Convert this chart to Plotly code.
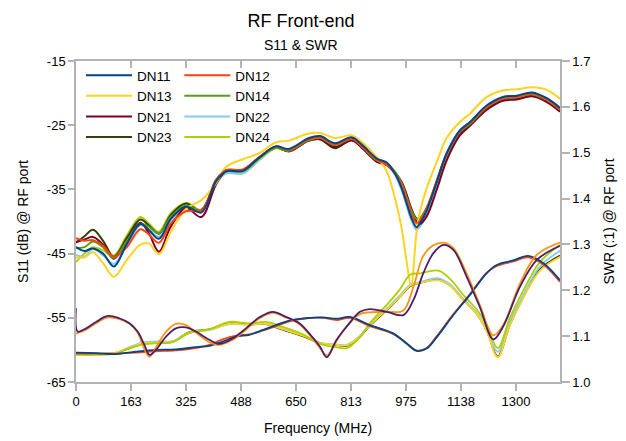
import plotly.graph_objects as go

# ---------------- data ----------------
F_S11 = [0, 25, 50, 80, 112, 150, 190, 215, 245, 280, 325, 370, 413, 443, 493, 540, 590, 628, 688, 721,
         765, 815, 850, 889, 918, 942, 962, 977, 990, 1006, 1016, 1036, 1066, 1095, 1134, 1164, 1214, 1261,
         1302, 1347, 1391, 1430]

DN11 = [-44.0, -44.6, -44.2, -45.0, -47.0, -43.5, -40.4, -41.3, -42.7, -39.6, -37.7, -38.6, -33.8, -32.2, -32.1,
        -30.1, -28.3, -28.7, -27.0, -26.7, -27.8, -26.9, -28.3, -30.2, -30.8, -32.5, -34.8, -37.2, -39.3, -40.9,
        -40.3, -38.3, -33.8, -29.4, -25.8, -24.5, -21.9, -20.6, -20.4, -19.9, -20.8, -22.3]
DN12 = [-42.6, -43.0, -42.9, -43.8, -45.5, -44.0, -41.2, -42.0, -43.3, -40.3, -38.4, -38.2, -33.8, -32.0, -31.9,
        -30.0, -28.3, -28.8, -27.2, -26.9, -28.0, -27.1, -28.6, -30.4, -31.2, -32.5, -34.3, -36.6, -38.7, -40.2,
        -39.9, -38.0, -33.6, -29.4, -25.9, -24.6, -22.1, -20.8, -20.6, -20.1, -21.0, -22.5]
DN13 = [-45.6, -45.6, -44.8, -46.5, -48.6, -46.0, -43.6, -43.4, -45.1, -41.6, -38.0, -36.7, -34.1, -31.5, -30.3,
        -29.4, -27.7, -27.4, -26.3, -26.2, -27.0, -26.6, -27.9, -30.0, -32.2, -36.3, -41.0, -46.3, -50.0, -41.6,
        -38.5, -34.8, -30.7, -27.0, -24.5, -23.2, -20.6, -19.6, -19.4, -19.1, -19.5, -20.9]
DN14 = [-44.1, -44.0, -43.1, -44.0, -45.7, -43.0, -40.4, -40.8, -41.8, -39.3, -37.5, -38.2, -33.8, -32.2, -32.2,
        -30.2, -28.5, -29.0, -27.3, -27.0, -28.1, -27.1, -28.6, -30.5, -31.0, -32.2, -34.0, -36.2, -38.2, -39.6,
        -39.5, -37.8, -33.8, -29.6, -26.0, -24.8, -22.2, -20.9, -20.7, -20.2, -21.1, -22.6]
DN21 = [-43.2, -42.8, -42.4, -43.6, -45.8, -43.0, -40.2, -41.8, -44.7, -40.8, -37.9, -39.3, -34.3, -32.2, -32.0,
        -30.1, -28.4, -29.1, -27.4, -27.2, -28.4, -27.4, -28.8, -30.7, -31.2, -32.4, -33.8, -35.8, -37.9, -40.0,
        -40.4, -39.2, -35.0, -30.5, -26.6, -25.1, -22.6, -21.2, -21.0, -20.5, -21.4, -22.9]
DN22 = [-45.2, -45.5, -44.3, -45.3, -46.6, -43.7, -40.6, -41.2, -42.4, -39.8, -37.9, -38.5, -34.2, -32.5, -32.5,
        -30.4, -28.5, -28.9, -27.1, -26.9, -28.0, -27.0, -28.4, -30.2, -31.0, -32.7, -35.1, -37.6, -39.7, -41.3,
        -40.8, -38.7, -34.2, -29.7, -26.0, -24.7, -22.1, -20.8, -20.6, -20.1, -21.0, -22.5]
DN23 = [-43.3, -42.3, -41.3, -43.0, -45.5, -42.6, -39.7, -40.6, -41.9, -39.0, -37.2, -38.4, -33.6, -32.0, -32.0,
        -30.1, -28.5, -29.0, -27.4, -27.2, -28.6, -27.3, -28.8, -30.6, -31.2, -32.3, -34.0, -36.1, -38.0, -39.5,
        -39.6, -38.0, -34.0, -29.8, -26.2, -24.9, -22.4, -21.0, -20.8, -20.3, -21.2, -22.7]
DN24 = [-46.3, -45.0, -44.0, -44.5, -45.3, -42.2, -39.3, -40.3, -41.6, -38.7, -37.1, -38.2, -34.0, -32.5, -32.5,
        -30.5, -28.6, -29.0, -27.2, -27.0, -28.2, -27.2, -28.5, -30.4, -31.0, -32.4, -34.4, -36.8, -38.9, -40.4,
        -40.1, -38.2, -33.9, -29.6, -26.0, -24.7, -22.2, -20.9, -20.7, -20.2, -21.1, -22.6]

# SWR curves, group A
F_SWR_A = [0, 5, 30, 59, 94, 128, 158, 182, 202, 217, 236, 266, 295, 325, 354, 394, 423, 463, 502, 542,
           581, 620, 660, 689, 721, 741, 770, 800, 839, 868, 918, 967, 997, 1026, 1056, 1085, 1115, 1154, 1193,
           1233, 1262, 1312, 1361, 1430]
SWR_A1 = [1.161, 1.110, 1.117, 1.131, 1.144, 1.139, 1.128, 1.110, 1.081, 1.059, 1.070, 1.099, 1.117, 1.119, 1.110,
          1.092, 1.083, 1.095, 1.117, 1.141, 1.153, 1.142, 1.128, 1.106, 1.077, 1.054, 1.092, 1.121, 1.153, 1.159,
          1.153, 1.146, 1.179, 1.237, 1.281, 1.299, 1.288, 1.230, 1.164, 1.093, 1.121, 1.208, 1.266, 1.297]
SWR_A2 = [1.105, 1.107, 1.114, 1.128, 1.141, 1.137, 1.127, 1.108, 1.072, 1.055, 1.075, 1.110, 1.127, 1.124, 1.108,
          1.087, 1.081, 1.092, 1.114, 1.139, 1.151, 1.141, 1.126, 1.104, 1.074, 1.058, 1.090, 1.122, 1.148, 1.152,
          1.153, 1.156, 1.208, 1.275, 1.298, 1.304, 1.292, 1.237, 1.168, 1.102, 1.124, 1.215, 1.277, 1.304]

# SWR curves, group B
F_SWR_B = [0, 59, 118, 177, 236, 295, 354, 394, 433, 473, 512, 551, 591, 630, 679, 729, 770, 809, 868, 937,
           977, 1006, 1036, 1066, 1115, 1164, 1213, 1243, 1292, 1336, 1381, 1430]
SWR_B1 = [1.064, 1.063, 1.061, 1.066, 1.070, 1.071, 1.076, 1.079, 1.088, 1.099, 1.103, 1.113, 1.124, 1.134, 1.139,
          1.141, 1.138, 1.142, 1.124, 1.106, 1.084, 1.068, 1.073, 1.098, 1.146, 1.190, 1.237, 1.255, 1.265, 1.275,
          1.259, 1.222]
SWR_B2 = [1.062, 1.062, 1.062, 1.064, 1.067, 1.069, 1.074, 1.081, 1.093, 1.101, 1.104, 1.112, 1.122, 1.132, 1.139,
          1.140, 1.135, 1.140, 1.122, 1.105, 1.084, 1.069, 1.074, 1.100, 1.148, 1.192, 1.238, 1.253, 1.263, 1.272,
          1.256, 1.218]

# SWR curves, group C
F_SWR_C = [0, 59, 118, 148, 197, 246, 286, 335, 394, 453, 512, 561, 611, 670, 725, 760, 800, 839, 868, 918,
           957, 987, 1016, 1071, 1105, 1144, 1184, 1213, 1246, 1282, 1322, 1371, 1430]
SWR_C1 = [1.062, 1.062, 1.064, 1.072, 1.084, 1.087, 1.088, 1.108, 1.114, 1.127, 1.125, 1.127, 1.115, 1.101, 1.084,
          1.082, 1.080, 1.100, 1.124, 1.158, 1.186, 1.210, 1.216, 1.222, 1.210, 1.178, 1.148, 1.112, 1.054, 1.124,
          1.184, 1.243, 1.273]
SWR_C2 = [1.059, 1.059, 1.062, 1.071, 1.082, 1.085, 1.087, 1.107, 1.115, 1.131, 1.128, 1.131, 1.120, 1.104, 1.082,
          1.077, 1.074, 1.098, 1.128, 1.168, 1.202, 1.234, 1.237, 1.243, 1.225, 1.190, 1.158, 1.125, 1.074, 1.140,
          1.200, 1.262, 1.299]
SWR_C3 = [1.061, 1.061, 1.064, 1.073, 1.086, 1.089, 1.089, 1.107, 1.113, 1.126, 1.125, 1.127, 1.116, 1.102, 1.085,
          1.083, 1.081, 1.101, 1.125, 1.160, 1.189, 1.212, 1.218, 1.226, 1.213, 1.181, 1.150, 1.115, 1.066, 1.132,
          1.190, 1.252, 1.286]
SWR_C4 = [1.061, 1.061, 1.063, 1.071, 1.083, 1.086, 1.088, 1.109, 1.115, 1.128, 1.126, 1.126, 1.114, 1.100, 1.084,
          1.082, 1.079, 1.099, 1.123, 1.157, 1.186, 1.209, 1.216, 1.223, 1.211, 1.180, 1.149, 1.113, 1.056, 1.125,
          1.186, 1.246, 1.276]

X_TICKS = [0, 162.5, 325, 487.5, 650, 812.5, 975, 1137.5, 1300]
X_TICK_TEXT = ["0", "163", "325", "488", "650", "813", "975", "1138", "1300"]
Y_TICKS = [-15, -25, -35, -45, -55, -65]
Y_TICK_TEXT = ["-15", "-25", "-35", "-45", "-55", "-65"]
Y2_TICKS = [1.0, 1.1, 1.2, 1.3, 1.4, 1.5, 1.6, 1.7]

S11_SERIES = [
    ("DN11", DN11, "#004586", "legend"),
    ("DN12", DN12, "#ff420e", "legend2"),
    ("DN13", DN13, "#ffd320", "legend"),
    ("DN14", DN14, "#579d1c", "legend2"),
    ("DN21", DN21, "#7e0021", "legend"),
    ("DN22", DN22, "#83caff", "legend2"),
    ("DN23", DN23, "#314004", "legend"),
    ("DN24", DN24, "#aecf00", "legend2"),
]
SWR_SERIES = [
    (F_SWR_C, SWR_C4, "#314004"),
    (F_SWR_C, SWR_C3, "#83caff"),
    (F_SWR_C, SWR_C1, "#ffd320"),
    (F_SWR_C, SWR_C2, "#aecf00"),
    (F_SWR_B, SWR_B2, "#ff420e"),
    (F_SWR_B, SWR_B1, "#004586"),
    (F_SWR_A, SWR_A2, "#ff950e"),
    (F_SWR_A, SWR_A1, "#4b1f6f"),
]

FONT = "Liberation Sans, Arial, sans-serif"
GREY = "#b3b3b3"

fig = go.Figure()
for name, vals, col, leg in reversed(S11_SERIES):
    fig.add_trace(go.Scatter(x=F_S11, y=vals, name=name, mode="lines",
                             line=dict(color=col, width=2, shape="spline", smoothing=1.0),
                             legend=leg, hoverinfo="skip"))
for fx, vals, col in SWR_SERIES:
    fig.add_trace(go.Scatter(x=fx, y=vals, mode="lines", yaxis="y2", showlegend=False,
                             line=dict(color=col, width=1.8, shape="spline", smoothing=1.0),
                             hoverinfo="skip"))
# helper trace so the top (inside-tick) axis is drawn
fig.add_trace(go.Scatter(x=[None], y=[None], xaxis="x2", showlegend=False, hoverinfo="skip"))

axis_common = dict(showgrid=False, zeroline=False, showline=True, linecolor=GREY, linewidth=1.5,
                   ticks="outside", tickcolor=GREY, tickwidth=1.5, automargin=False,
                   tickfont=dict(family=FONT, size=13, color="#000"),
                   title_font=dict(family=FONT, size=14, color="#000"))

fig.update_layout(
    width=626, height=441,
    margin=dict(l=76, r=66, t=61, b=59, autoexpand=False),
    paper_bgcolor="white", plot_bgcolor="white",
    font=dict(family=FONT, size=13, color="#000"),
    title=dict(text="RF Front-end", x=301 / 626, xanchor="center", xref="container",
               y=1 - 21 / 441, yanchor="middle", yref="container", automargin=False,
               font=dict(family=FONT, size=18, color="#000")),
    xaxis=dict(range=[0, 1430], tickvals=X_TICKS, ticktext=X_TICK_TEXT, ticklen=7,
               title=dict(text="Frequency (MHz)", standoff=15), mirror=True, **axis_common),
    xaxis2=dict(range=[0, 1430], overlaying="x", side="top", anchor="y", tickvals=X_TICKS,
                showticklabels=False, ticks="inside", ticklen=7, tickcolor=GREY, tickwidth=1.5,
                showline=False, showgrid=False, zeroline=False, automargin=False),
    yaxis=dict(range=[-65, -15], tickvals=Y_TICKS, ticktext=Y_TICK_TEXT, ticklen=6,
               title=dict(text="S11 (dB) @ RF port"), **axis_common),
    yaxis2=dict(range=[1.0, 1.7], tickvals=Y2_TICKS, tickformat=".1f", ticklen=8,
                overlaying="y", side="right",
                title=dict(text="SWR (:1) @ RF port"), **axis_common),
    legend=dict(x=5 / 484, y=1 + 1 / 321, xanchor="left", yanchor="top", bgcolor="rgba(0,0,0,0)",
                itemwidth=46, font=dict(family=FONT, size=13.5, color="#000"), tracegroupgap=0,
                traceorder="reversed"),
    legend2=dict(x=0.2135, y=1 + 1 / 321, xanchor="left", yanchor="top", bgcolor="rgba(0,0,0,0)",
                 itemwidth=46, font=dict(family=FONT, size=13.5, color="#000"), tracegroupgap=0,
                 traceorder="reversed"),
    annotations=[dict(text="S11 & SWR", x=(301 - 76) / 484, xref="paper", y=1 + 16 / 321, yref="paper",
                      xanchor="center", yanchor="middle", showarrow=False,
                      font=dict(family=FONT, size=14, color="#000"))],
)

fig.write_html("out.html")
